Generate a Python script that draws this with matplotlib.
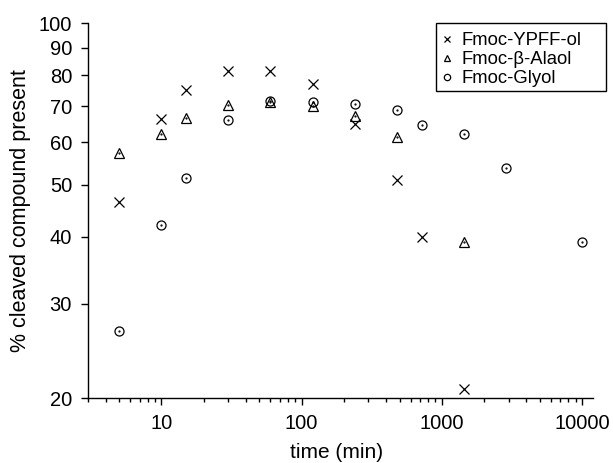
import numpy as np
import matplotlib
matplotlib.use("Agg")
import matplotlib.pyplot as plt
from matplotlib.patches import Rectangle
from matplotlib.ticker import FixedLocator, FixedFormatter, LogLocator, NullFormatter, NullLocator

plt.rcParams['font.family'] = ['Liberation Sans', 'DejaVu Sans']

# data (time in min, % cleaved)
t_ypff = [5, 10, 15, 30, 60, 120, 240, 480, 720, 1440]
y_ypff = [46.4, 66.4, 75.0, 81.4, 81.4, 77.1, 64.9, 51.0, 39.9, 20.8]

t_ala = [5, 10, 15, 30, 60, 120, 240, 480, 1440]
y_ala = [57.2, 62.2, 66.6, 70.3, 71.3, 70.2, 67.2, 61.3, 39.2]

t_gly = [5, 10, 15, 30, 60, 120, 240, 480, 720, 1440, 2880, 10080]
y_gly = [26.7, 42.1, 51.4, 66.0, 71.5, 71.4, 70.7, 68.9, 64.6, 62.2, 53.7, 39.2]

labels = ['Fmoc-YPFF-ol', 'Fmoc-β-Alaol', 'Fmoc-Glyol']
yticks = [20, 30, 40, 50, 60, 70, 80, 90, 100]
xticks = [10, 100, 1000, 10000]

fig = plt.figure(figsize=(6.13, 4.63), dpi=100)
ax = fig.add_axes([0.1436, 0.1397, 0.8238, 0.81])

ax.plot(t_ypff, y_ypff, 'x', color='k', ms=7, mew=0.9, label=labels[0])
ax.plot(t_ala, y_ala, '^', mfc='none', mec='k', ms=7, mew=0.9, label=labels[1])
ax.plot(t_gly, y_gly, 'o', mfc='none', mec='k', ms=6.5, mew=0.9, label=labels[2])
# little centre dots like the original symbols
ax.plot(t_ala, y_ala, '.', color='k', ms=1.2)
ax.plot(t_gly, y_gly, '.', color='k', ms=1.2)

ax.set_xscale('log')
ax.set_yscale('log')
ax.set_xlim(3, 12000)
ax.set_ylim(20, 100)

ax.yaxis.set_major_locator(FixedLocator(yticks))
ax.yaxis.set_major_formatter(FixedFormatter([str(v) for v in yticks]))
ax.yaxis.set_minor_locator(NullLocator())
ax.xaxis.set_major_locator(FixedLocator(xticks))
ax.xaxis.set_major_formatter(FixedFormatter([str(v) for v in xticks]))
ax.xaxis.set_minor_locator(LogLocator(base=10, subs=np.arange(2, 10)))
ax.xaxis.set_minor_formatter(NullFormatter())

for s in ['top', 'right']:
    ax.spines[s].set_visible(False)
for s in ['left', 'bottom']:
    ax.spines[s].set_linewidth(1.0)

ax.tick_params(axis='both', which='major', direction='out', length=5, width=1, labelsize=14.5)
ax.tick_params(axis='y', which='major', pad=6.5)
ax.tick_params(axis='x', which='major', pad=6)
ax.tick_params(axis='x', which='minor', direction='out', length=3, width=1)

ax.set_xlabel('time (min)', fontsize=15)
ax.set_ylabel('% cleaved compound present', fontsize=15.5)
ax.xaxis.set_label_coords(0.4925, -0.118)
ax.yaxis.set_label_coords(-0.113, 0.5)

leg = fig.legend(loc='upper left', bbox_to_anchor=(435.7 / 613, (463 - 26.5) / 463),
                 bbox_transform=fig.transFigure, borderaxespad=0,
                 fontsize=13.3, frameon=False, handlelength=0.6,
                 handletextpad=0.5, borderpad=0.3, labelspacing=0.12, markerscale=0.7)
# box drawn separately: the original has a wide right margin
fig.patches.append(Rectangle((435.7 / 613, (463 - 90.7) / 463), 170 / 613, 67.4 / 463,
                             transform=fig.transFigure, fill=False, ec='k', lw=1.0))

fig.savefig('out.png', dpi=100)
